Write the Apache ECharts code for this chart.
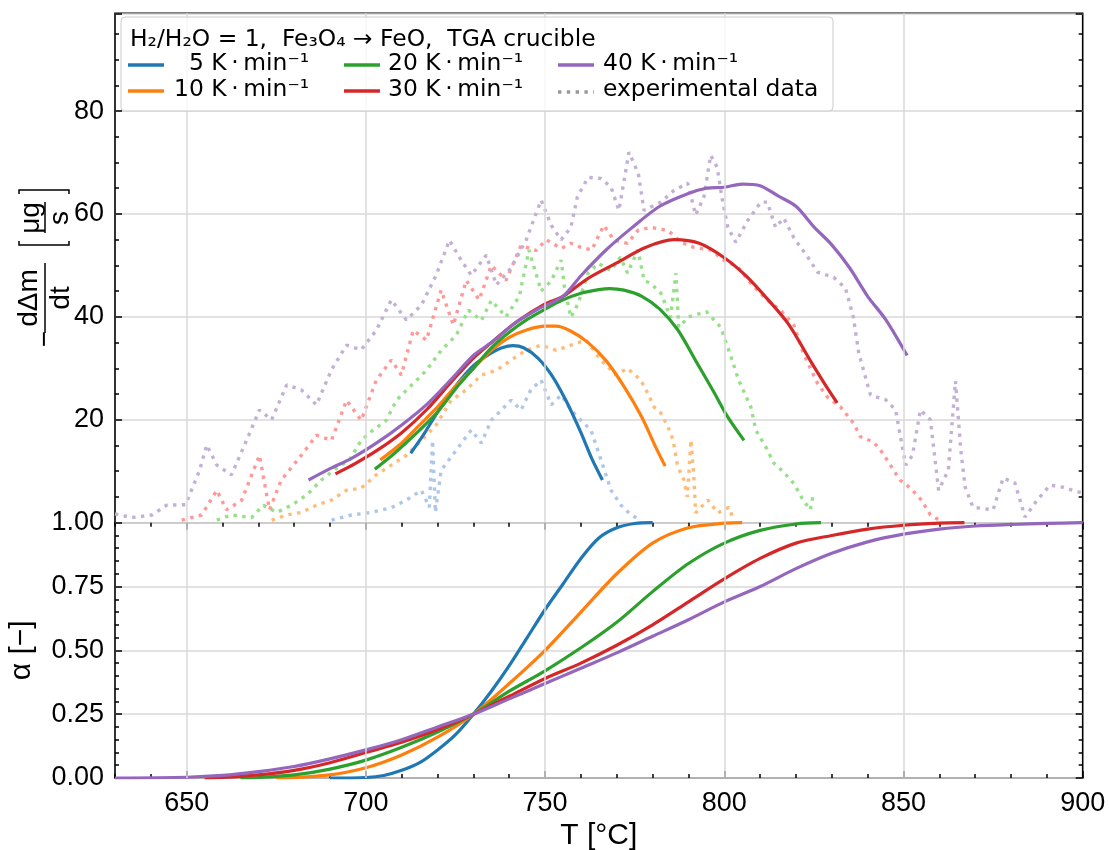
<!DOCTYPE html>
<html><head><meta charset="utf-8">
<script src="https://cdn.jsdelivr.net/npm/echarts@6/dist/echarts.min.js"></script>
<style>html,body{margin:0;padding:0;background:#fff}#c{width:1109px;height:850px}</style>
</head><body><div id="c"></div>
<script>
// ---------------- data ----------------
const rateNames = ['\u20075 K\u2009·\u2009min⁻¹', '10 K\u2009·\u2009min⁻¹', '20 K\u2009·\u2009min⁻¹', '30 K\u2009·\u2009min⁻¹', '40 K\u2009·\u2009min⁻¹'];
const expName = 'experimental data';
const legendTitle = 'H₂/H₂O = 1,  Fe₃O₄ → FeO,  TGA crucible';
const xTickValues = [650, 700, 750, 800, 850, 900];

// model mass-loss rate  [T (°C), -dΔm/dt (µg/s)]
const model5 = [[712.5,13.5],[716,17],[720,21.5],[725,26.5],[730,30.5],[735,33],[738,34],[741,34.4],[744,34],[748,32],[752,28.5],[756,23.5],[760,17.5],[763,12.5],[766,8.3]];
const model10 = [[704,12.2],[710,15.5],[715,19],[720,22.5],[725,26.5],[730,30],[735,33.5],[740,36],[745,37.5],[750,38.2],[753,38.2],[757,37.3],[762,35],[767,31.5],[772,26.5],[777,20.5],[781,14.5],[783.5,11]];
const model20 = [[702.5,10.4],[708,13.5],[715,18],[720,21.5],[725,26],[730,30],[735,34],[740,37],[745,39.5],[750,41.5],[755,43.3],[760,44.6],[765,45.3],[768,45.5],[772,45.2],[777,44],[782,41.5],[787,37.5],[792,31.5],[797,25.5],[801,20.5],[805.5,16]];
const model30 = [[691.5,9.5],[697,11.5],[703,14],[710,17.5],[717,22],[724,27.5],[730,32],[735,35],[742,39],[750,42.5],[755,44],[762,47.5],[770,50.5],[778,53.5],[786,55],[793,54.3],[800,51.5],[806,48],[812,43.5],[818,38.5],[824,31.5],[828,27],[831.5,23.3]];
const model40 = [[684,8.3],[690,10.5],[696,12.5],[703,15.5],[710,19],[717,23],[724,28],[730,32.5],[735,35],[742,39],[748,41.5],[755,44],[760,48],[767,53],[774,57.2],[782,61.5],[790,64],[795,65],[800,65.2],[805,65.8],[810,65.5],[815,63.5],[820,61.5],[825,57.5],[830,54],[835,49.5],[840,44],[845,39.5],[851,32.5]];

// experimental mass-loss rate
const exp5 = [[690.4,0.5],[696,1.5],[701.6,2],[707.1,2.9],[711.3,4.4],[715.5,6.3],[717.7,3],[718.6,16],[719.4,2],[721,10.2],[725.2,14.1],[729.4,18],[732.2,15.5],[735,19.9],[737.8,21.9],[740.5,23.8],[743.3,21.9],[746,25.8],[748.9,27.7],[751.7,22.9],[754.5,24.8],[757.2,21.9],[760,19.9],[762.8,18],[765.6,12.2],[768.4,6.3],[771.2,3.4],[774,1.5],[776.7,0.5]];
const exp10 = [[673.7,0.5],[677.9,1.5],[682,2],[686.2,3.4],[690.4,4.4],[694.6,6.3],[698.7,6.7],[702.9,9.3],[707.1,11.2],[711.3,13.1],[715.5,16],[719.6,19],[723.8,23.8],[728,25.8],[732.2,28.7],[736.4,29.6],[740.5,31.6],[744.7,33.5],[748.9,34.5],[753.1,33.5],[757.2,34.5],[761.4,35.5],[765.6,31.6],[769.8,28.7],[773,30],[776.7,27.7],[778.6,25.2],[780.4,22.5],[782.3,21.3],[784.3,18.6],[785.7,16.1],[787,10.9],[788.7,8.4],[789.7,5],[790.7,16.1],[791.5,9],[792,1.9],[795.4,4.4],[798.2,1.9],[801.3,3],[802.6,0.5]];
const exp20 = [[658.4,0.5],[662.5,1.5],[668.1,1],[671.4,3.4],[675.1,2],[679.3,3.4],[683.5,5.4],[687.6,8.3],[691.8,10.6],[695.4,12.2],[698.7,16],[702,18],[705.7,19.9],[708.5,23.8],[712.7,26.7],[716.9,29.6],[721,33.5],[725.2,36.4],[728.6,41.3],[732.2,39.3],[735,43.2],[739.1,40],[742.8,44],[745.5,53],[748.9,45],[751.7,47],[754.5,51],[755.4,45.7],[757.2,39.9],[759.2,42.6],[762,48.5],[764.8,50.4],[768.4,49],[771,51.6],[773,48.5],[775.9,53],[777.6,47.1],[779.5,46.5],[782.3,44.6],[785,39.9],[786.5,48.5],[787.3,38],[790,40],[795,41],[799,38],[802,32],[804,27.7],[807.4,22.5],[808.8,18],[811.6,14.7],[813.8,11.6],[816.6,9.8],[819.4,7.6],[822,4.4],[824,2.5],[824.8,5.4]];
const exp30 = [[648.6,0.5],[654.2,1.5],[658.4,6.3],[661.1,2.5],[665.3,4.3],[670.3,13.1],[673.1,2.5],[676.4,8.3],[682,13.1],[686.2,17],[690.4,16],[694.6,23.8],[698.7,19.9],[702.9,27.7],[707.1,31.6],[709.9,28.7],[713.2,37.4],[716.9,35.5],[721,45.2],[724.4,38.4],[728,47.1],[731.6,43.3],[735,50],[739.1,47.1],[743.3,53.9],[747.5,52.9],[750.3,55],[754.5,53.3],[757.2,54.3],[760,53.5],[763,53],[766.4,57.8],[769.2,54.9],[773,54.3],[775.9,56.8],[779.5,57.4],[784.3,56.8],[788,54.5],[791.5,53.5],[796.2,53],[799.9,51],[803.8,49.7],[807.4,46.5],[812,43.2],[815.7,41.3],[819.4,38.4],[822,33],[826,27.1],[828.8,24.4],[832.4,22.5],[836,19.4],[838,16.7],[841.6,15.7],[843.6,14.1],[845.8,11.8],[849,8.3],[852,6.7],[855,4.4],[857.5,1.5],[860,0.5]];
const exp40 = [[630,1.7],[634.7,1],[640.3,1.5],[644.4,3.4],[649.7,3.5],[653.6,10.2],[655.6,15.1],[658.4,11.2],[662.5,9.3],[666.7,16],[670.3,21.9],[673.7,20],[677.9,26.8],[682,25.8],[686.2,22.9],[690.4,29.7],[694.6,34.5],[698.7,33.6],[702.9,37.4],[707.1,43.3],[711.3,39.4],[715.5,42.3],[719.6,48.1],[723.3,54.9],[726.6,51],[729.4,48.1],[733.6,52],[736.4,46.2],[740.5,49.5],[744.7,54.9],[748.9,62.7],[751.7,57.8],[754.5,55],[757.2,57.4],[759,63.3],[762,67.1],[765.6,66.9],[768.4,65.2],[770.6,60.7],[773.4,72],[776,67.9],[777.6,60.7],[782.3,62.3],[786,64.6],[789.8,66],[792,59.8],[794.3,63.3],[796.2,71.4],[798,69.1],[799.6,62.1],[801,57.4],[803.2,54.5],[806.5,58.7],[810.2,62.3],[812,62.3],[814.3,57.4],[816.6,59.2],[819.4,55.4],[823.3,51.6],[826,48.7],[830.5,47.7],[833.8,45.6],[836,40],[837.5,33],[840.8,24.8],[845,23.9],[847.8,21.9],[850.6,11.2],[852.5,13.1],[854.7,21.9],[857.5,20],[859.8,6.3],[862.5,10.2],[864.5,27.5],[866,14],[867.2,6.9],[869.4,3],[875,2.5],[877.8,8.7],[881.1,7.7],[883.9,1.1],[887.3,4.4],[890.9,7.3],[894.5,6.9],[898.7,6],[900,5.8]];

// conversion α [-]
const alpha5 = [[690,0],[700,0.002],[705,0.01],[710,0.03],[715,0.06],[720,0.11],[725,0.17],[730,0.25],[735,0.34],[740,0.44],[745,0.55],[750,0.66],[755,0.76],[760,0.86],[765,0.94],[770,0.98],[775,0.997],[780,1]];
const alpha10 = [[675,0],[680,0.002],[690,0.012],[700,0.04],[710,0.09],[720,0.16],[730,0.25],[740,0.37],[750,0.5],[760,0.65],[770,0.8],[780,0.92],[790,0.98],[800,0.998],[805,1]];
const alpha20 = [[665,0],[670,0.002],[680,0.012],[690,0.035],[700,0.07],[710,0.12],[720,0.18],[730,0.25],[740,0.34],[750,0.42],[760,0.51],[770,0.61],[780,0.73],[790,0.84],[800,0.92],[810,0.97],[820,0.995],[827,1]];
const alpha30 = [[655,0],[660,0.002],[670,0.012],[680,0.03],[690,0.06],[700,0.1],[710,0.14],[720,0.19],[730,0.25],[740,0.32],[750,0.39],[760,0.45],[770,0.52],[780,0.6],[790,0.69],[800,0.78],[810,0.86],[820,0.92],[830,0.95],[840,0.975],[850,0.99],[860,0.998],[867,1]];
const alpha40 = [[630,0],[650,0.003],[660,0.01],[670,0.025],[680,0.045],[690,0.075],[700,0.11],[710,0.15],[720,0.2],[730,0.25],[740,0.31],[750,0.37],[760,0.43],[770,0.49],[780,0.555],[790,0.62],[800,0.69],[810,0.75],[820,0.82],[830,0.88],[840,0.925],[850,0.955],[860,0.975],[870,0.987],[880,0.993],[890,0.997],[900,1]];

// ---------------- styles ----------------
const lineColors = ['#1f77b4', '#ff7f0e', '#2ca02c', '#d62728', '#9467bd'];
const dotColors = ['#aec7e8', '#ffbb78', '#98df8a', '#ff9896', '#c5b0d5'];
const models = [model5, model10, model20, model30, model40];
const exps = [exp5, exp10, exp20, exp30, exp40];
const alphas = [alpha5, alpha10, alpha20, alpha30, alpha40];

const tickFont = 'Liberation Sans';
const gridColor = '#d8d8d8';
const L = 115, R = 26.3, T0 = 13.3, MID = 522.7, BOT = 778;

function baseX(grid, pos) {
  return {type: 'value', gridIndex: grid, min: 630, max: 900, position: pos,
    axisLine: {show: false}, splitLine: {show: false},
    axisTick: {show: false}, axisLabel: {show: false}};
}
function tickStyle(len) { return {show: true, inside: true, length: len, lineStyle: {color: '#000', width: 1.5}}; }

const xAxes = [
  baseX(0, 'bottom'),
  Object.assign(baseX(0, 'top'), {axisTick: Object.assign(tickStyle(7), {customValues: xTickValues})}),
  Object.assign(baseX(0, 'top'), {interval: 10, axisTick: tickStyle(4)}),
  Object.assign(baseX(1, 'bottom'), {
    axisTick: Object.assign(tickStyle(7), {customValues: xTickValues}),
    axisLabel: {show: true, customValues: xTickValues, margin: 12, fontSize: 27, fontFamily: tickFont, color: '#000'},
    name: 'T [°C]', nameLocation: 'middle', nameGap: 43,
    nameTextStyle: {fontSize: 30, fontFamily: tickFont, color: '#000'}
  }),
  Object.assign(baseX(1, 'bottom'), {interval: 10, axisTick: tickStyle(4)})
];

function baseY(grid, pos, min, max, interval) {
  return {type: 'value', gridIndex: grid, min, max, interval, position: pos,
    axisLine: {show: false}, splitLine: {show: false},
    axisTick: {show: false}, axisLabel: {show: false}};
}
const yAxes = [
  Object.assign(baseY(0, 'left', 0, 99, 20), {
    axisTick: tickStyle(7),
    axisLabel: {show: true, margin: 11, fontSize: 27, fontFamily: tickFont, color: '#000',
      formatter: v => (v > 0 && v % 20 === 0) ? String(v) : ''},
    splitLine: {show: true, lineStyle: {color: gridColor, width: 1.5}}
  }),
  Object.assign(baseY(0, 'left', 0, 99, 5), {axisTick: tickStyle(4)}),
  Object.assign(baseY(0, 'right', 0, 99, 20), {axisTick: tickStyle(7)}),
  Object.assign(baseY(0, 'right', 0, 99, 5), {axisTick: tickStyle(4)}),
  Object.assign(baseY(1, 'left', 0, 1, 0.25), {
    axisTick: tickStyle(7),
    minorTick: {show: true, splitNumber: 5, length: 4, lineStyle: {color: '#000', width: 1.5}},
    axisLabel: {show: true, margin: 11, fontSize: 27, fontFamily: tickFont, color: '#000', formatter: v => v.toFixed(2)},
    splitLine: {show: true, lineStyle: {color: gridColor, width: 1.5}},
    name: 'α [−]', nameLocation: 'middle', nameGap: 78, nameRotate: 90,
    nameTextStyle: {fontSize: 30, fontFamily: tickFont, color: '#000'}
  }),
  Object.assign(baseY(1, 'right', 0, 1, 0.25), {
    axisTick: tickStyle(7),
    minorTick: {show: true, splitNumber: 5, length: 4, lineStyle: {color: '#000', width: 1.5}}
  })
];

const series = [];
// vertical grid lines through the library's x scale
[0, 1].forEach(g => {
  series.push({type: 'line', xAxisIndex: g === 0 ? 0 : 3, yAxisIndex: g === 0 ? 0 : 4, data: [], z: 1, silent: true,
    markLine: {silent: true, symbol: 'none', animation: false, label: {show: false},
      lineStyle: {color: gridColor, width: 1.5, type: 'solid'},
      emphasis: {disabled: true},
      data: xTickValues.filter(v => v < 900).map(v => ({xAxis: v}))}});
});
exps.forEach((d, i) => series.push({
  name: rateNames[i] + ' exp', type: 'line', xAxisIndex: 0, yAxisIndex: 0, data: d, showSymbol: false, z: 3,
  lineStyle: {color: dotColors[i], width: 3.4, type: [3.4, 5.4], cap: 'butt'}, silent: true
}));
models.forEach((d, i) => series.push({
  name: rateNames[i], type: 'line', xAxisIndex: 0, yAxisIndex: 0, data: d, showSymbol: false, smooth: 0.3, z: 4,
  lineStyle: {color: lineColors[i], width: 3.2}, silent: true
}));
alphas.forEach((d, i) => series.push({
  name: rateNames[i] + ' α', type: 'line', xAxisIndex: 3, yAxisIndex: 4, data: d, showSymbol: false, smooth: 0.3, z: 4,
  lineStyle: {color: lineColors[i], width: 3.2}, silent: true
}));

// ------------- legend (graphic) -------------
const legFont = 'DejaVu Sans';
const legFs = 23.4;
const legend = [
  {type: 'rect', shape: {x: 121, y: 17, width: 712, height: 94, r: 4}, style: {fill: 'rgba(255,255,255,0.8)', stroke: '#cccccc', lineWidth: 1}, z: 50},
  {type: 'text', x: 130, y: 40, style: {text: legendTitle, font: legFs + 'px "' + legFont + '"', fill: '#000', verticalAlign: 'middle'}, z: 51}
];
const cols = [[128, 174], [344, 388], [558, 603]];
const rows = [65, 91];
const entries = [[0, 0, 0], [0, 1, 1], [1, 0, 2], [1, 1, 3], [2, 0, 4]];
entries.forEach(([c, r, i]) => {
  legend.push({type: 'line', shape: {x1: cols[c][0], y1: rows[r], x2: cols[c][0] + 36, y2: rows[r]}, style: {stroke: lineColors[i], lineWidth: 3.4}, z: 51});
  legend.push({type: 'text', x: cols[c][1], y: rows[r] - 1, style: {text: rateNames[i], font: legFs + 'px "' + legFont + '"', fill: '#000', verticalAlign: 'middle'}, z: 51});
});
legend.push({type: 'line', shape: {x1: cols[2][0], y1: rows[1] + 1, x2: cols[2][0] + 36, y2: rows[1] + 1}, style: {stroke: '#999999', lineWidth: 3.4, lineDash: [3.4, 5.4]}, z: 51});
legend.push({type: 'text', x: cols[2][1], y: rows[1] - 1, style: {text: expName, font: legFs + 'px "' + legFont + '"', fill: '#000', verticalAlign: 'middle'}, z: 51});

// ------------- rotated y-label of the top panel -------------
const yf = '28px "' + tickFont + '"';
const ylab = {type: 'group', x: 45, y: 269, rotation: Math.PI / 2, z: 60, children: [
  {type: 'text', x: -70, y: 0, style: {text: '−', font: yf, fill: '#000', align: 'center', verticalAlign: 'middle'}},
  {type: 'text', x: -29, y: -16, style: {text: 'dΔm', font: yf, fill: '#000', align: 'center', verticalAlign: 'middle'}},
  {type: 'line', shape: {x1: -64, y1: 0, x2: 6, y2: 0}, style: {stroke: '#000', lineWidth: 1.5}},
  {type: 'text', x: -29, y: 16, style: {text: 'dt', font: yf, fill: '#000', align: 'center', verticalAlign: 'middle'}},
  {type: 'polyline', shape: {points: [[28, -26], [24, -26], [24, 24], [28, 24]]}, style: {stroke: '#000', lineWidth: 1.5, fill: null}},
  {type: 'text', x: 51, y: -14, style: {text: 'μg', font: yf, fill: '#000', align: 'center', verticalAlign: 'middle'}},
  {type: 'line', shape: {x1: 36, y1: 0, x2: 67, y2: 0}, style: {stroke: '#000', lineWidth: 1.5}},
  {type: 'text', x: 51, y: 15, style: {text: 's', font: yf, fill: '#000', align: 'center', verticalAlign: 'middle'}},
  {type: 'polyline', shape: {points: [[75, -26], [79, -26], [79, 24], [75, 24]]}, style: {stroke: '#000', lineWidth: 1.5, fill: null}}
]};

const chart = echarts.init(document.getElementById('c'), null, {renderer: 'canvas'});
chart.setOption({
  animation: false,
  backgroundColor: '#fff',
  grid: [
    {left: L, right: R, top: T0, height: MID - T0, show: true, borderColor: '#000', borderWidth: 1.6, backgroundColor: 'transparent', outerBoundsMode: 'none'},
    {left: L, right: R, top: MID, height: BOT - MID, show: true, borderColor: '#000', borderWidth: 1.6, backgroundColor: 'transparent', outerBoundsMode: 'none'}
  ],
  xAxis: xAxes,
  yAxis: yAxes,
  series: series,
  graphic: {elements: legend.concat([ylab])}
});
</script></body></html>
